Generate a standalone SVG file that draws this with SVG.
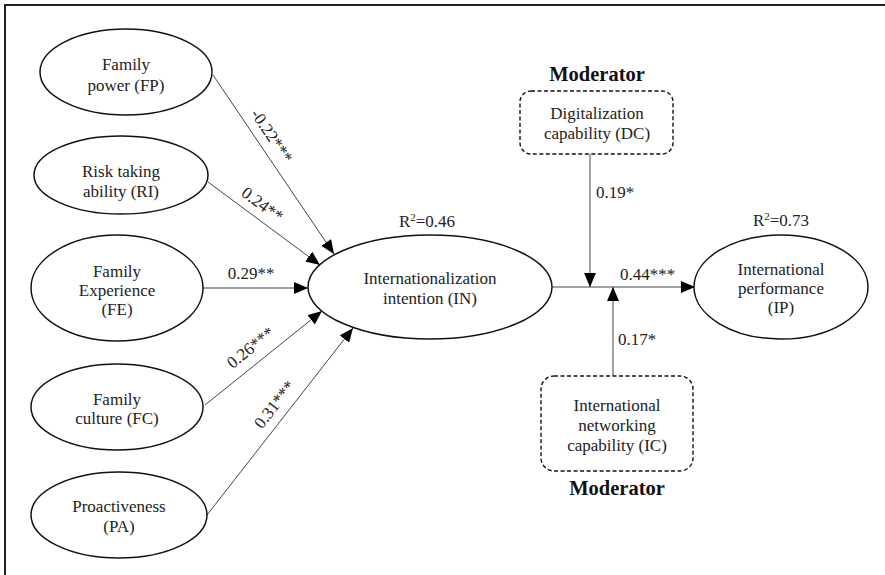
<svg xmlns="http://www.w3.org/2000/svg" width="885" height="575" viewBox="0 0 885 575">
<style>
text{font-family:"Liberation Serif","Times New Roman",serif;font-size:17px;fill:#222;}
.c{text-anchor:middle;}
.mod{font-weight:bold;font-size:20.5px;fill:#111;}
.el{fill:#fff;stroke:#111;stroke-width:1.5;}
.box{fill:#fff;stroke:#111;stroke-width:1.4;stroke-dasharray:4,2.5;}
.ln{stroke:#444;stroke-width:1;fill:none;}
.frame{stroke:#222;stroke-width:2;fill:none;}
</style>
<defs>
<marker id="ah" markerUnits="userSpaceOnUse" markerWidth="14" markerHeight="12" viewBox="0 0 14 12" refX="14" refY="6" orient="auto">
<path d="M0,0 L14,6 L0,12 Z" fill="#000"/>
</marker>
</defs>
<rect width="885" height="575" fill="#fff"/>
<path class="frame" d="M5,575 L5,5 L885,5"/>

<g id="connectors">
<line class="ln" x1="213" y1="75" x2="334" y2="254" marker-end="url(#ah)"/>
<line class="ln" x1="208" y1="182" x2="320" y2="265" marker-end="url(#ah)"/>
<line class="ln" x1="203" y1="288" x2="308" y2="288" marker-end="url(#ah)"/>
<line class="ln" x1="205" y1="405" x2="322" y2="311" marker-end="url(#ah)"/>
<line class="ln" x1="207" y1="515" x2="353" y2="328" marker-end="url(#ah)"/>
<line class="ln" x1="552" y1="287" x2="695" y2="287" marker-end="url(#ah)"/>
<line class="ln" x1="590" y1="154" x2="590" y2="287" marker-end="url(#ah)"/>
<line class="ln" x1="613" y1="376" x2="613" y2="287" marker-end="url(#ah)"/>
<text class="c" transform="translate(267,139) rotate(56)">-0.22***</text>
<text class="c" transform="translate(259,209) rotate(36.5)">0.24**</text>
<text class="c" x="251" y="279">0.29**</text>
<text class="c" transform="translate(254,352) rotate(-38.8)">0.26***</text>
<text class="c" transform="translate(279,408) rotate(-51.9)">0.31***</text>
<text x="596" y="198">0.19*</text>
<text x="620" y="280">0.44***</text>
<text x="618" y="345">0.17*</text>
</g>

<g id="FP">
<ellipse class="el" cx="126" cy="72" rx="86" ry="43"/>
<text class="c" x="126" y="70">Family</text>
<text class="c" x="126" y="91">power (FP)</text>
</g>
<g id="RI">
<ellipse class="el" cx="121" cy="175" rx="87" ry="39"/>
<text class="c" x="121" y="177">Risk taking</text>
<text class="c" x="121" y="197">ability (RI)</text>
</g>
<g id="FE">
<ellipse class="el" cx="117" cy="288" rx="86" ry="53"/>
<text class="c" x="117" y="277">Family</text>
<text class="c" x="117" y="296">Experience</text>
<text class="c" x="117" y="315">(FE)</text>
</g>
<g id="FC">
<ellipse class="el" cx="117" cy="407" rx="86" ry="43"/>
<text class="c" x="117" y="405">Family</text>
<text class="c" x="117" y="424">culture (FC)</text>
</g>
<g id="PA">
<ellipse class="el" cx="119" cy="515" rx="88" ry="43"/>
<text class="c" x="119" y="512">Proactiveness</text>
<text class="c" x="119" y="532">(PA)</text>
</g>
<g id="IN">
<ellipse class="el" cx="430" cy="287" rx="122" ry="52"/>
<text class="c" x="430" y="284">Internationalization</text>
<text class="c" x="430" y="304">intention (IN)</text>
<text class="c" x="427" y="227">R<tspan font-size="11" dy="-6">2</tspan><tspan dy="6">=0.46</tspan></text>
</g>
<g id="IP">
<ellipse class="el" cx="781" cy="287" rx="87" ry="52"/>
<text class="c" x="781" y="275">International</text>
<text class="c" x="781" y="294">performance</text>
<text class="c" x="781" y="313">(IP)</text>
<text class="c" x="781" y="226">R<tspan font-size="11" dy="-6">2</tspan><tspan dy="6">=0.73</tspan></text>
</g>
<g id="DC">
<text class="c mod" x="597" y="81">Moderator</text>
<rect class="box" x="520" y="91" width="153" height="63" rx="11"/>
<text class="c" x="597" y="119">Digitalization</text>
<text class="c" x="597" y="139">capability (DC)</text>
</g>
<g id="IC">
<rect class="box" x="541" y="376" width="152" height="95" rx="13"/>
<text class="c" x="617" y="411">International</text>
<text class="c" x="617" y="431">networking</text>
<text class="c" x="617" y="451">capability (IC)</text>
<text class="c mod" x="617" y="495">Moderator</text>
</g>
</svg>
